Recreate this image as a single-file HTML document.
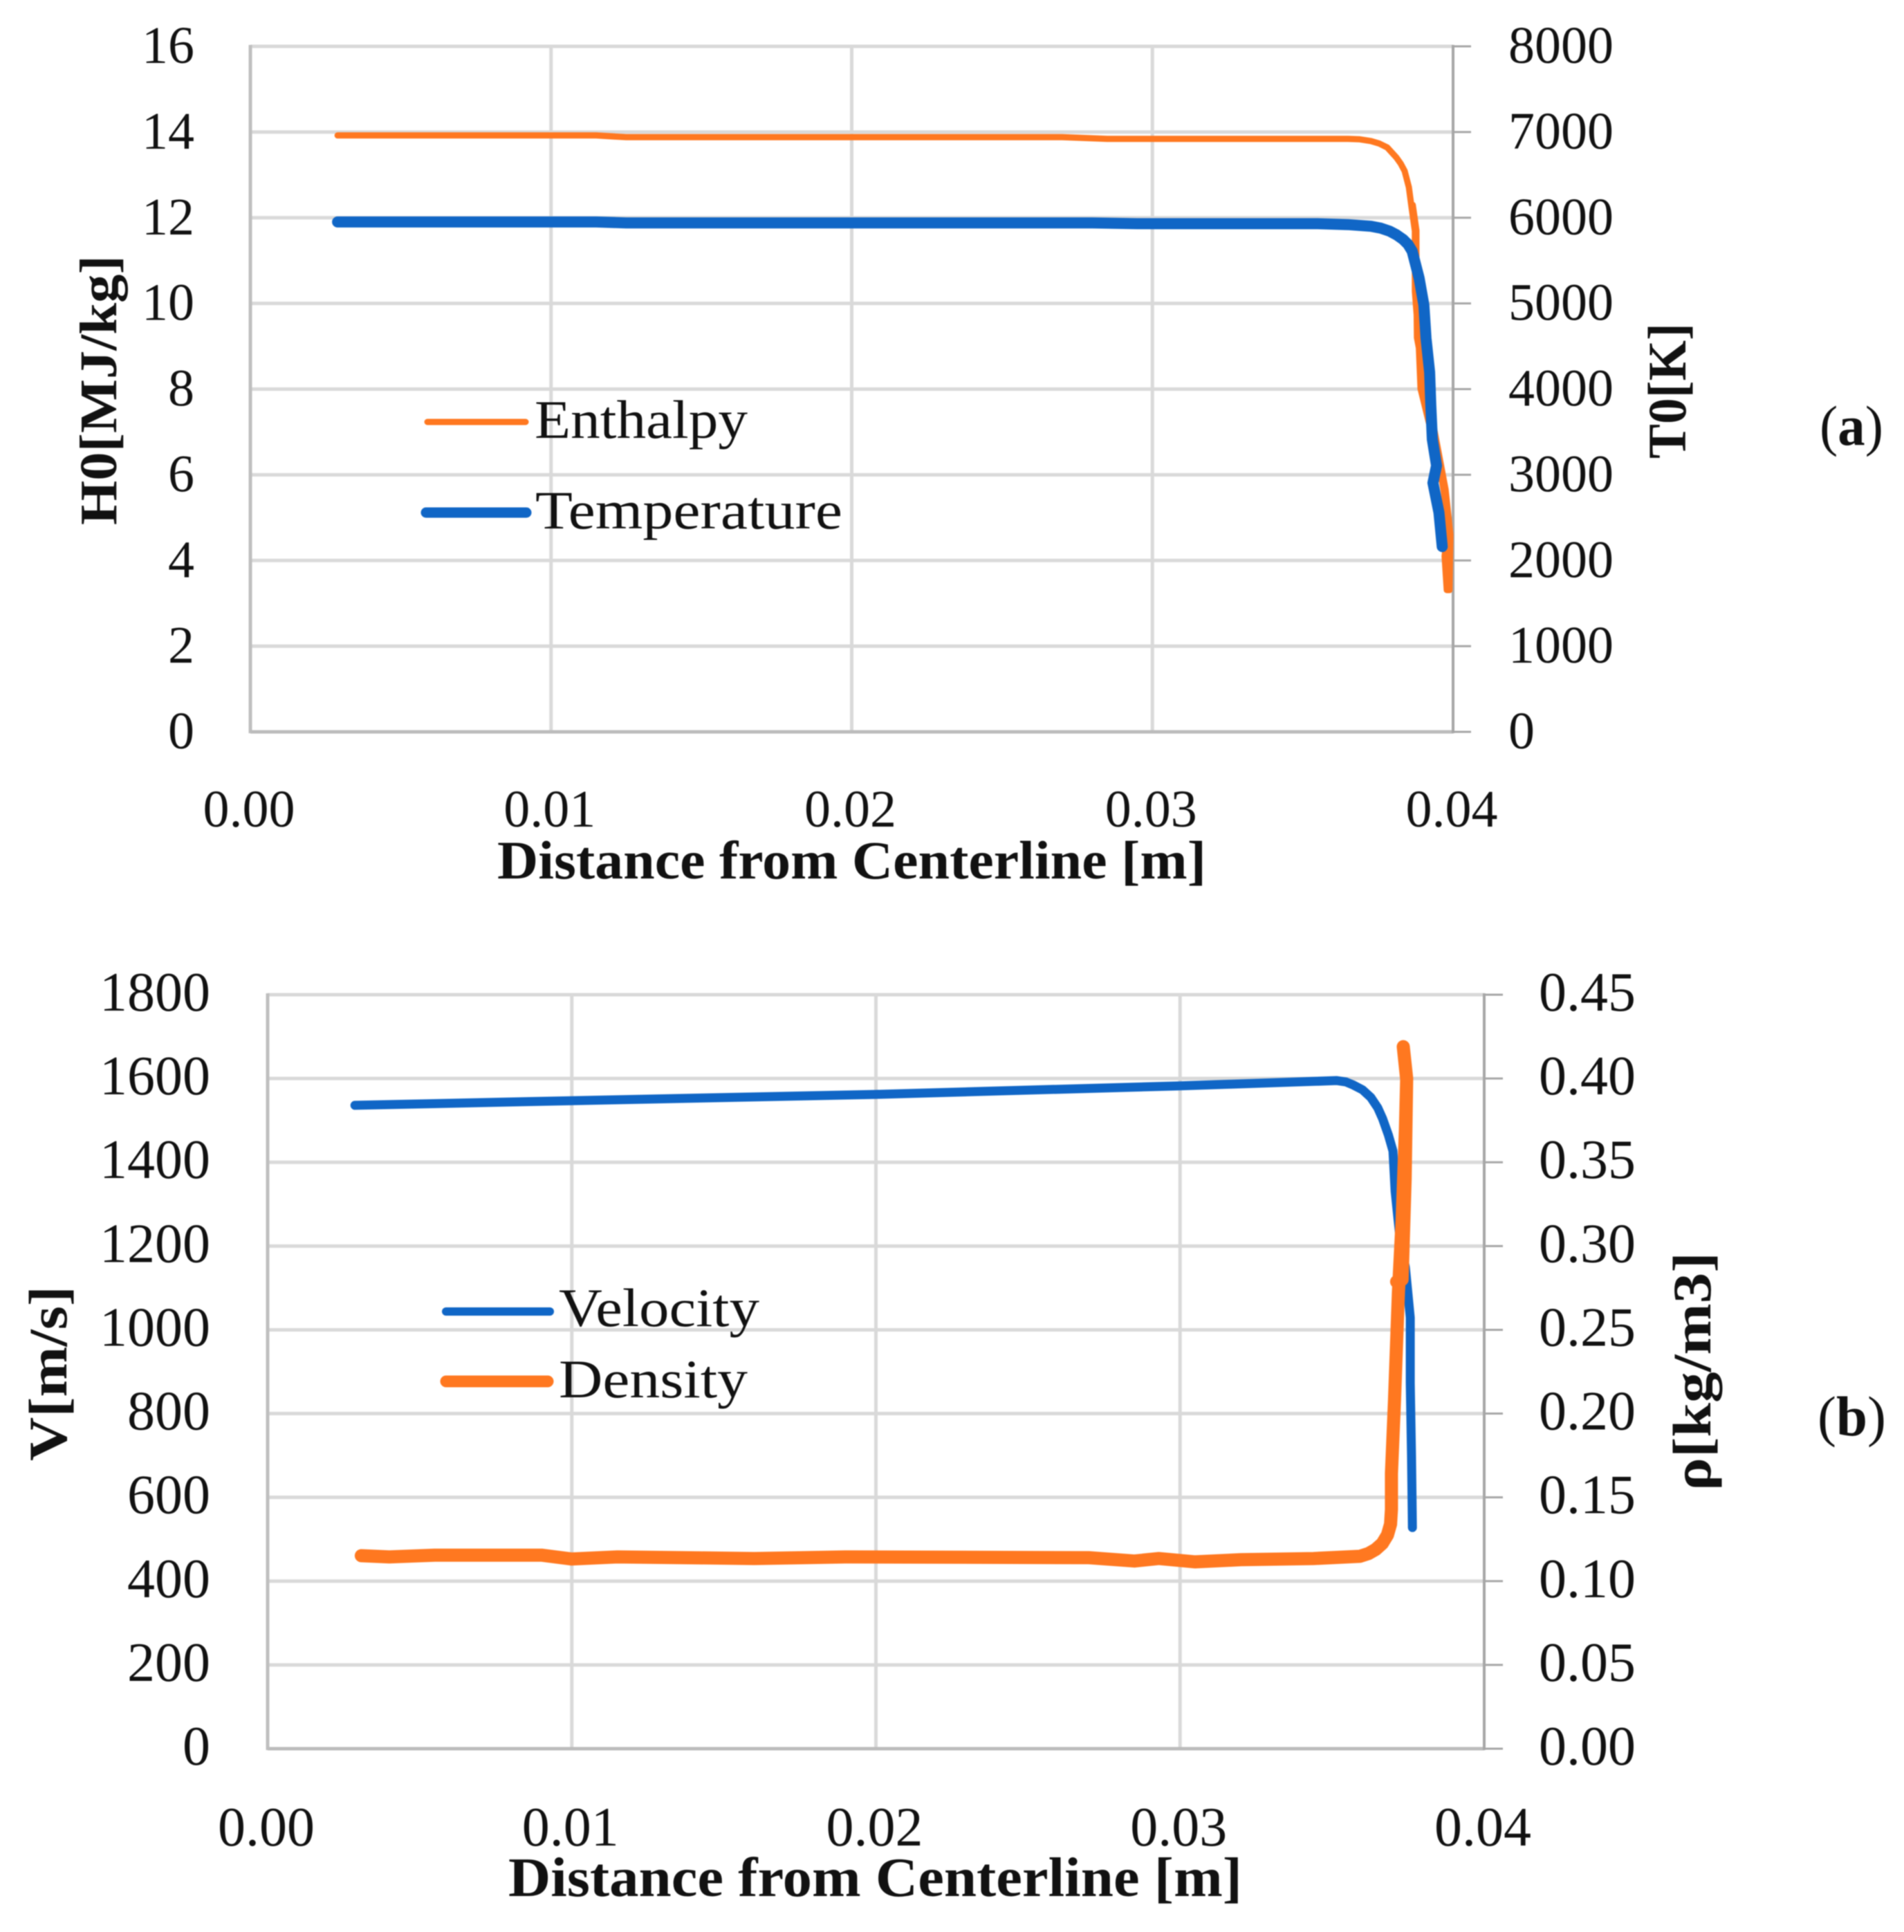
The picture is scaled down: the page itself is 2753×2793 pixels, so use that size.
<!DOCTYPE html>
<html lang="en">
<head>
<meta charset="utf-8">
<title>Enthalpy, temperature, velocity and density profiles</title>
<style>
html,body{margin:0;padding:0;background:#fff;}
body{width:2753px;height:2793px;overflow:hidden;}
svg{display:block;filter:blur(0.7px);font-family:"Liberation Serif",serif;fill:#111;}
.bold{font-weight:bold;}
</style>
</head>
<body>
<svg id="figure" xmlns="http://www.w3.org/2000/svg" width="2753" height="2793" viewBox="0 0 2753 2793">
  <rect x="0" y="0" width="2753" height="2793" fill="#fff"/>
  <g id="chartA"></g>
  <g id="chartB"></g>

  <text class="bold" x="719" y="1270" font-size="78" textLength="1025" lengthAdjust="spacingAndGlyphs">Distance from Centerline [m]</text>
  <text class="bold" transform="translate(168,759) rotate(-90)" font-size="76" textLength="390" lengthAdjust="spacingAndGlyphs">H0[MJ/kg]</text>
  <text class="bold" transform="translate(2437,663) rotate(-90)" font-size="78" textLength="196" lengthAdjust="spacingAndGlyphs">T0[K]</text>
  <text x="2631" y="643" font-size="82" textLength="92" lengthAdjust="spacingAndGlyphs">(<tspan class="bold">a</tspan>)</text>

  <line x1="618" y1="610" x2="760" y2="610" stroke="#ff7820" stroke-width="9" stroke-linecap="round"/>
  <text x="773" y="633" font-size="78" textLength="308" lengthAdjust="spacingAndGlyphs">Enthalpy</text>
  <line x1="616" y1="741" x2="761" y2="741" stroke="#1066c6" stroke-width="15" stroke-linecap="round"/>
  <text x="774" y="764" font-size="78" textLength="444" lengthAdjust="spacingAndGlyphs">Temperature</text>

  <text class="bold" x="735" y="2741" font-size="80" textLength="1061" lengthAdjust="spacingAndGlyphs">Distance from Centerline [m]</text>
  <text class="bold" transform="translate(96,2112) rotate(-90)" font-size="78" textLength="253" lengthAdjust="spacingAndGlyphs">V[m/s]</text>
  <text class="bold" transform="translate(2473,2155) rotate(-90)" font-size="78" textLength="345" lengthAdjust="spacingAndGlyphs">ρ[kg/m3]</text>
  <text x="2628" y="2075" font-size="82" textLength="99" lengthAdjust="spacingAndGlyphs">(<tspan class="bold">b</tspan>)</text>

  <line x1="645" y1="1896" x2="795" y2="1896" stroke="#1066c6" stroke-width="12" stroke-linecap="round"/>
  <text x="808" y="1917" font-size="78" textLength="290" lengthAdjust="spacingAndGlyphs">Velocity</text>
  <line x1="645" y1="1997" x2="792" y2="1997" stroke="#ff7820" stroke-width="17" stroke-linecap="round"/>
  <text x="808" y="2020" font-size="78" textLength="273" lengthAdjust="spacingAndGlyphs">Density</text>
</svg>
<script>
var xTickLabels = ["0.00", "0.01", "0.02", "0.03", "0.04"];
var aLeftTickLabels = ["0", "2", "4", "6", "8", "10", "12", "14", "16"];
var aRightTickLabels = ["0", "1000", "2000", "3000", "4000", "5000", "6000", "7000", "8000"];
var bLeftTickLabels = ["0", "200", "400", "600", "800", "1000", "1200", "1400", "1600", "1800"];
var bRightTickLabels = ["0.00", "0.05", "0.10", "0.15", "0.20", "0.25", "0.30", "0.35", "0.40", "0.45"];

var enthalpyX = [0.0029, 0.0115, 0.0125, 0.027, 0.0285, 0.035, 0.03651, 0.0369, 0.03727, 0.03755, 0.03781, 0.03811, 0.03826, 0.03839, 0.03853, 0.03862, 0.03873, 0.03873, 0.03873, 0.03885, 0.03892, 0.03919, 0.03949, 0.03968, 0.03984, 0.03972, 0.03979, 0.03988, 0.03991, 0.03975, 0.0388, 0.03878, 0.03878, 0.03866];
var enthalpyY = [13.92, 13.92, 13.88, 13.88, 13.84, 13.84, 13.84, 13.83, 13.79, 13.73, 13.64, 13.41, 13.26, 13.09, 12.71, 12.24, 11.69, 11.14, 10.28, 9.19, 8.01, 7.23, 6.44, 5.66, 4.87, 4.1, 3.31, 3.31, 4.6, 5.66, 9.2, 10.3, 11.7, 12.3];
var temperatureX = [0.0029, 0.0115, 0.0125, 0.028, 0.0295, 0.0355, 0.0365, 0.03727, 0.0376, 0.03789, 0.03812, 0.03834, 0.0385, 0.03864, 0.03887, 0.03903, 0.0391, 0.03922, 0.03926, 0.03931, 0.03945, 0.03933, 0.03953, 0.03964];
var temperatureY = [5950, 5950, 5940, 5940, 5930, 5930, 5920, 5900, 5878, 5843, 5800, 5746, 5690, 5609, 5295, 4980, 4592, 4197, 3810, 3414, 3107, 2905, 2558, 2163];
var velocityX = [0.00287, 0.01, 0.02, 0.02984, 0.03439, 0.03514, 0.03545, 0.03568, 0.036, 0.03627, 0.0365, 0.03666, 0.03685, 0.037, 0.03707, 0.03723, 0.03741, 0.03757, 0.03757, 0.03761, 0.03764];
var velocityY = [1536, 1547, 1562, 1582, 1593, 1595, 1592, 1585, 1573, 1555, 1530, 1504, 1465, 1427, 1331, 1219, 1149, 1029, 873, 700, 528];
var densityX = [0.00308, 0.004, 0.0055, 0.009, 0.01, 0.0115, 0.016, 0.019, 0.027, 0.0285, 0.0293, 0.0305, 0.032, 0.03439, 0.03591, 0.0362, 0.03643, 0.03665, 0.03682, 0.03692, 0.03695, 0.03695, 0.03705, 0.03718, 0.0373, 0.03741, 0.03745, 0.03734, 0.03745, 0.0374, 0.0373, 0.03712];
var densityY = [0.1152, 0.1145, 0.1155, 0.1155, 0.1132, 0.1145, 0.1135, 0.1145, 0.114, 0.112, 0.1135, 0.1115, 0.1128, 0.1135, 0.1148, 0.1165, 0.1189, 0.1225, 0.1276, 0.134, 0.1428, 0.1643, 0.2077, 0.2725, 0.3154, 0.3695, 0.3996, 0.419, 0.4, 0.34, 0.28, 0.2787];

var SVGNS = 'http://www.w3.org/2000/svg';
function line(parent, x1, y1, x2, y2, color, width, name) {
  var el = document.createElementNS(SVGNS, 'line');
  el.setAttribute('x1', x1);
  el.setAttribute('y1', y1);
  el.setAttribute('x2', x2);
  el.setAttribute('y2', y2);
  el.setAttribute('stroke', color);
  el.setAttribute('stroke-width', width);
  
  
  parent.appendChild(el);
}
function label(parent, x, y, text, size, anchor, name) {
  var el = document.createElementNS(SVGNS, 'text');
  el.setAttribute('x', x);
  el.setAttribute('y', y);
  el.setAttribute('font-size', size);
  el.setAttribute('text-anchor', anchor);
  el.textContent = text;
  
  
  parent.appendChild(el);
}
function series(parent, xs, ys, sx, sy, color, width, name) {
  var pts = xs.map(function (v, i) { return sx(v).toFixed(1) + ',' + sy(ys[i]).toFixed(1); }).join(' ');
  var el = document.createElementNS(SVGNS, 'polyline');
  el.setAttribute('points', pts);
  el.setAttribute('fill', 'none');
  el.setAttribute('stroke', color);
  el.setAttribute('stroke-width', width);
  el.setAttribute('stroke-linecap', 'round');
  el.setAttribute('stroke-linejoin', 'round');
  
  
  parent.appendChild(el);
}
function frame(g, o) {
  var L = o.left, R = o.right, T = o.top, B = o.bottom, n = o.prefix;
  var nV = xTickLabels.length - 1, nH = o.leftLabels.length - 1;
  xTickLabels.forEach(function (t, i) {
    var x = L + (R - L) * i / nV;
    if (i > 0 && i < nV) line(g, x, T, x, B, '#d9d9d9', 5, n + '-vertical-gridline');
    label(g, x - 2, o.xLabelY, t, o.size, 'middle', n + '-x-tick-label');
  });
  o.leftLabels.forEach(function (t, i) {
    var y = B - (B - T) * i / nH;
    if (i > 0) line(g, L, y, R, y, '#d9d9d9', 5, n + '-horizontal-gridline');
    label(g, o.leftLabelX, y + o.labelDy, t, o.size, 'end', n + '-left-tick-label');
  });
  var mR = o.rightLabels.length - 1;
  o.rightLabels.forEach(function (t, i) {
    var y = B - (B - T) * i / mR;
    line(g, R, y, o.tickEnd, y, '#a6a6a6', 3, n + '-right-tick');
    label(g, o.rightLabelX, y + o.labelDy, t, o.size, 'start', n + '-right-tick-label');
  });
  line(g, L, T - 2, L, B + 2, '#bfbfbf', 5, n + '-left-axis');
  line(g, L, B, R, B, '#bcbcbc', 5, n + '-bottom-axis');
  line(g, R, T - 2, R, B + 2, '#a6a6a6', 4, n + '-right-axis');
}

var A = {prefix:'chart-a', left:362, right:2101, top:67, bottom:1058, size:76, labelDy:24,
  xLabelY:1195, leftLabelX:281, rightLabelX:2181, tickEnd:2127,
  leftLabels:aLeftTickLabels, rightLabels:aRightTickLabels};
var gA = document.getElementById('chartA');
frame(gA, A);
function axA(v) { return A.left + (A.right - A.left) * v / 0.04; }
function ayLeft(v) { return A.bottom - (A.bottom - A.top) * v / 16; }
function ayRight(v) { return A.bottom - (A.bottom - A.top) * v / 8000; }
series(gA, enthalpyX, enthalpyY, axA, ayLeft, '#ff7820', 9, 'enthalpy-line');
series(gA, temperatureX, temperatureY, axA, ayRight, '#1066c6', 16, 'temperature-line');

var Bp = {prefix:'chart-b', left:387, right:2146, top:1438, bottom:2528, size:80, labelDy:23,
  xLabelY:2668, leftLabelX:304, rightLabelX:2225, tickEnd:2173,
  leftLabels:bLeftTickLabels, rightLabels:bRightTickLabels};
var gB = document.getElementById('chartB');
frame(gB, Bp);
function bxA(v) { return Bp.left + (Bp.right - Bp.left) * v / 0.04; }
function byLeft(v) { return Bp.bottom - (Bp.bottom - Bp.top) * v / 1800; }
function byRight(v) { return Bp.bottom - (Bp.bottom - Bp.top) * v / 0.45; }
series(gB, velocityX, velocityY, bxA, byLeft, '#1066c6', 13, 'velocity-line');
series(gB, densityX, densityY, bxA, byRight, '#ff7820', 19, 'density-line');
</script>
</body>
</html>
